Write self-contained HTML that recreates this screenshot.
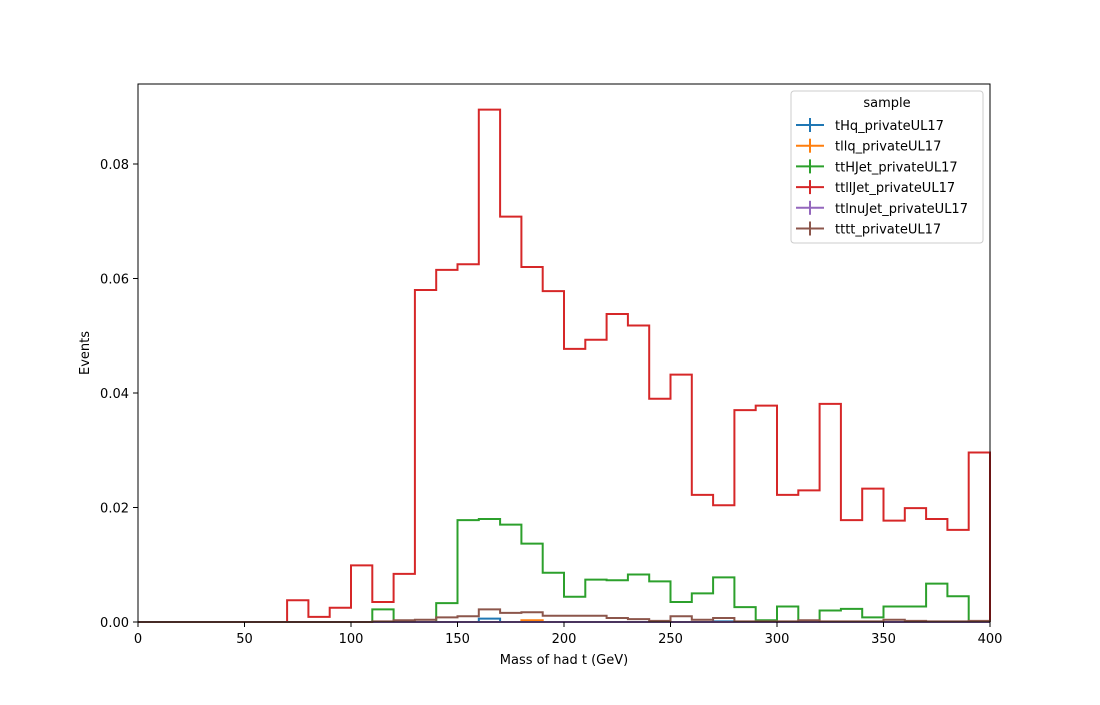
<!DOCTYPE html>
<html><head><meta charset="utf-8"><style>
body{margin:0;background:#fff;font-family:"Liberation Sans","DejaVu Sans",sans-serif}
svg text{font-family:"DejaVu Sans","Liberation Sans",sans-serif;font-size:13px;fill:#000}
</style></head><body>
<svg id="c" width="1100" height="700" xmlns="http://www.w3.org/2000/svg">
<rect width="1100" height="700" fill="#fff"/>
<g id="plot"></g>
<rect x="138" y="84" width="852" height="538" fill="none" stroke="#000" stroke-width="1"/>
<g id="axes"></g>
<text x="564" y="664" text-anchor="middle">Mass of had t (GeV)</text>
<text transform="translate(89,353) rotate(-90)" text-anchor="middle">Events</text>
<g id="legend"></g>
</svg>
<script>
const binEdgesStart = 0, binWidth = 10, nBins = 40;
const seriesNames = ["tHq_privateUL17","tllq_privateUL17","ttHJet_privateUL17","ttllJet_privateUL17","ttlnuJet_privateUL17","tttt_privateUL17"];
const colors = ["#1f77b4","#ff7f0e","#2ca02c","#d62728","#9467bd","#8c564b"];
const tHq = new Array(40).fill(0); tHq[16]=0.0006; tHq[27]=0.0001;
const tllq = new Array(40).fill(0); tllq[18]=0.0003;
const ttHJet = [0,0,0,0,0,0,0,0,0,0,0,0.0022,0,0,0.0033,0.0178,0.018,0.017,0.0137,0.0086,0.0044,0.0074,0.0073,0.0083,0.0071,0.0035,0.005,0.0078,0.0026,0.0003,0.0027,0.0001,0.002,0.0023,0.0008,0.0027,0.0027,0.0067,0.0045,0];
const ttllJet = [0,0,0,0,0,0,0,0.0038,0.0009,0.0025,0.0099,0.0035,0.0084,0.058,0.0615,0.0625,0.0895,0.0708,0.062,0.0578,0.0477,0.0493,0.0538,0.0518,0.039,0.0432,0.0222,0.0204,0.037,0.0378,0.0222,0.023,0.0381,0.0178,0.0233,0.0177,0.0199,0.018,0.0161,0.0296];
const ttlnuJet = new Array(40).fill(0);
const tttt = [0,0,0,0,0,0,0,0,0,0,0,0.0001,0.0003,0.0004,0.0008,0.001,0.0022,0.0016,0.0017,0.0011,0.0011,0.0011,0.0007,0.0005,0.0002,0.001,0.0004,0.0007,0.0001,0.0001,0.0001,0.0003,0.0001,0.0001,0.0001,0.0004,0.0002,0.0001,0.0001,0.0002];
const xTicks = [0,50,100,150,200,250,300,350,400];
const yTicks = [0,0.02,0.04,0.06,0.08];
const xs = v => 138 + (v-0)/400*852;
const ys = v => 622 - v/0.08*458;
const NS="http://www.w3.org/2000/svg";
function mk(t,a,p){const e=document.createElementNS(NS,t);for(const k in a)e.setAttribute(k,a[k]);p.appendChild(e);return e;}
const plot=document.getElementById('plot');
const all=[tHq,tllq,ttHJet,ttllJet,ttlnuJet,tttt];
const drawOrder=[0,1,2,3,4,5];
drawOrder.forEach(si=>{
  const d=all[si];let p=`M${xs(0)},${ys(0)}`;
  for(let i=0;i<nBins;i++){const x0=xs(binEdgesStart+i*binWidth),x1=xs(binEdgesStart+(i+1)*binWidth);p+=` L${x0},${ys(d[i])} L${x1},${ys(d[i])}`;}
  p+=` L${xs(400)},${ys(0)}`;
  const e=mk('path',{d:p,fill:'none',stroke:colors[si],'stroke-width':2},plot);
  
  
});
const ax=document.getElementById('axes');
xTicks.forEach(t=>{
  const l=mk('line',{x1:xs(t),x2:xs(t),y1:622,y2:627,stroke:'#000'},ax);
  
  
  const tx=mk('text',{x:xs(t),y:643,'text-anchor':'middle'},ax);tx.textContent=t;
  
  
});
yTicks.forEach(t=>{
  const l=mk('line',{x1:133,x2:138,y1:ys(t),y2:ys(t),stroke:'#000'},ax);
  
  
  const tx=mk('text',{x:129,y:ys(t)+5,'text-anchor':'end'},ax);tx.textContent=t.toFixed(2);
  
  
});
const lg=document.getElementById('legend');
mk('rect',{x:791,y:91,width:192,height:152,rx:3,fill:'#fff',stroke:'#ccc'},lg);
const tt=mk('text',{x:887,y:107,'text-anchor':'middle'},lg);tt.textContent='sample';
seriesNames.forEach((n,i)=>{
  const y=125+i*20.7;
  const g=mk('g',{},lg);
  
  
  mk('line',{x1:796,x2:824,y1:y,y2:y,stroke:colors[i],'stroke-width':2},g);
  mk('line',{x1:810,x2:810,y1:y-7,y2:y+7,stroke:colors[i],'stroke-width':2},g);
  const t=mk('text',{x:835,y:y+5},g);t.textContent=n;
});
</script>
</body></html>
